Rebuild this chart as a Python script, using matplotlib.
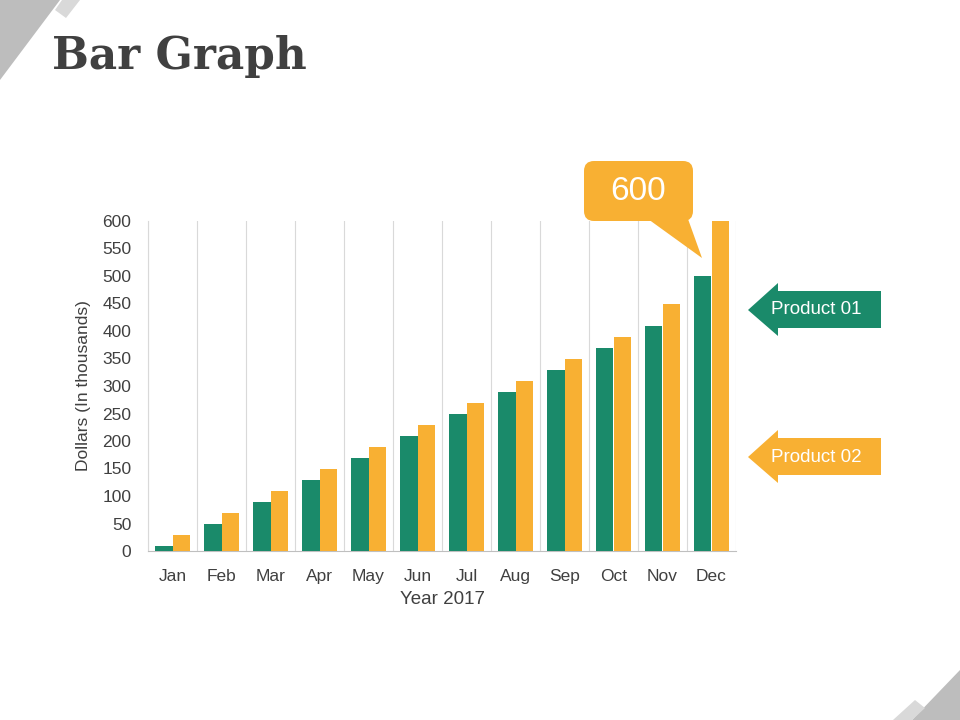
import matplotlib.pyplot as plt
import numpy as np
from matplotlib.patches import Polygon, FancyBboxPatch

# data
months = ['Jan', 'Feb', 'Mar', 'Apr', 'May', 'Jun', 'Jul', 'Aug', 'Sep', 'Oct', 'Nov', 'Dec']
product_01 = [10, 50, 90, 130, 170, 210, 250, 290, 330, 370, 410, 500]
product_02 = [30, 70, 110, 150, 190, 230, 270, 310, 350, 390, 450, 600]
yticks = list(range(0, 601, 50))

green = '#1A8A6A'
orange = '#F8B033'
dark = '#404040'

plt.rcParams['font.family'] = ['Liberation Sans', 'DejaVu Sans']

fig = plt.figure(figsize=(9.6, 7.2), dpi=100)

# chart
ax = fig.add_axes([148/960, 1-551/720, 588/960, 330/720])
x = np.arange(len(months))
w = 0.35
ax.bar(x - w/2, product_01, w, color=green, zorder=3)
ax.bar(x + w/2, product_02, w, color=orange, zorder=3)
ax.set_xlim(-0.5, len(months) - 0.5)
ax.set_ylim(0, 600)
ax.set_yticks(yticks)
ax.set_xticks(x)
ax.set_xticklabels(months)
ax.set_xticks(np.arange(-0.5, len(months)), minor=True)
ax.grid(which='minor', axis='x', color='#D9D9D9', lw=0.8, zorder=0)
ax.tick_params(which='both', length=0, labelsize=12.5, colors=dark)
ax.tick_params(axis='y', pad=12)
ax.tick_params(axis='x', pad=13)
for s in ['top', 'right']:
    ax.spines[s].set_visible(False)
ax.spines['left'].set_color('#D9D9D9')
ax.spines['bottom'].set_color('#BFBFBF')
ax.set_xlabel('Year 2017', fontsize=13.5, color=dark, labelpad=5)
ax.set_ylabel('Dollars (In thousands)', fontsize=12.5, color=dark, labelpad=8)

# overlay in pixel coords for decorations
deco = fig.add_axes([0, 0, 1, 1], zorder=10)
deco.set_xlim(0, 960)
deco.set_ylim(720, 0)
deco.axis('off')
deco.patch.set_alpha(0)

# corner shapes
deco.add_patch(Polygon([(0, 0), (60, 0), (0, 80)], closed=True, color='#BDBDBD', lw=0))
deco.add_patch(Polygon([(62, 0), (80, 0), (66, 18), (55, 10)], closed=True, color='#D9D9D9', lw=0))
deco.add_patch(Polygon([(960, 670), (960, 720), (912, 720)], closed=True, color='#BDBDBD', lw=0))
deco.add_patch(Polygon([(893, 720), (915, 700), (925, 708), (912, 720)], closed=True, color='#D9D9D9', lw=0))

deco.text(52, 57, 'Bar Graph', fontsize=31.5, fontweight='bold', color=dark,
          family=['DejaVu Serif'], va='center', ha='left')

# callout for max value
deco.add_patch(FancyBboxPatch((584, 161), 109, 60, boxstyle='round,pad=0,rounding_size=10',
                              color=orange, lw=0))
deco.add_patch(Polygon([(648, 219), (688, 219), (702, 258)], closed=True, color=orange, lw=0))
deco.text(638, 192, str(max(product_02)), fontsize=24, color='white', ha='center', va='center')

# legend arrows
for y0, col, lab in [(310, green, 'Product 01'), (457, orange, 'Product 02')]:
    deco.add_patch(Polygon([(748, y0), (778, y0 - 27), (778, y0 - 19), (881, y0 - 19),
                            (881, y0 + 18), (778, y0 + 18), (778, y0 + 26)],
                           closed=True, color=col, lw=0))
    deco.text(816, y0, lab, fontsize=13.5, color='white', ha='center', va='center')

fig.savefig('out.png', dpi=100)
